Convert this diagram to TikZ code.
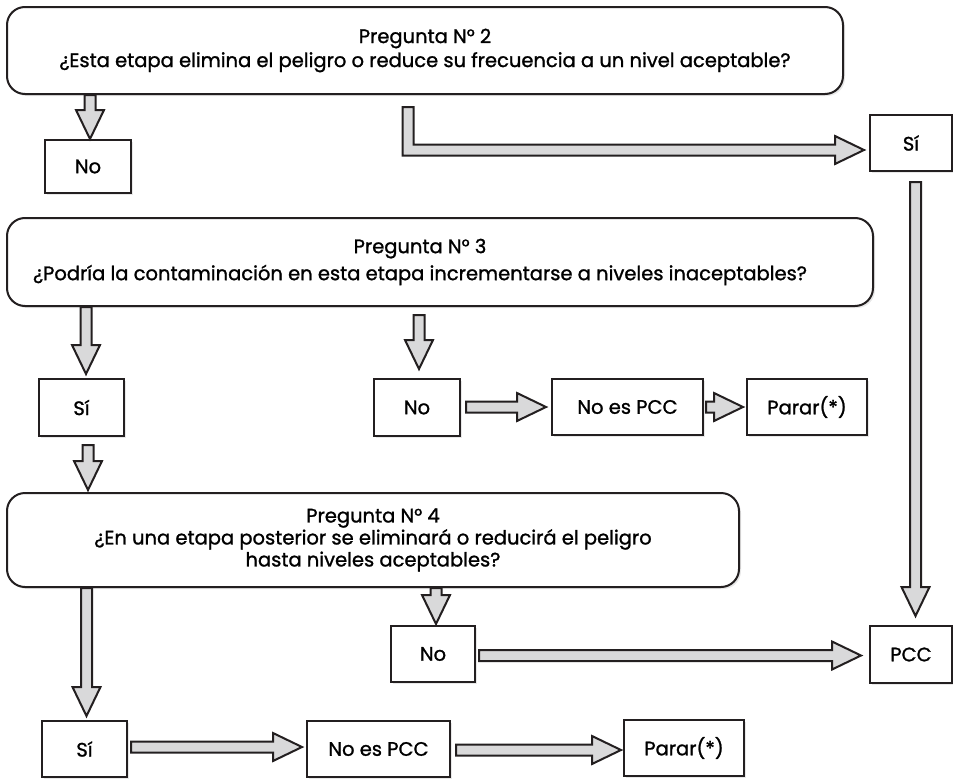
\documentclass[tikz,border=0pt]{standalone}
\usepackage{fontspec}
\setmainfont{Poppins}[FakeBold=1.2]
\usetikzlibrary{calc,shadows}
\definecolor{ink}{HTML}{231F20}
\definecolor{arrowfill}{HTML}{D9D9DA}
\tikzset{
  box/.style={draw=ink, line width=2pt, fill=white, inner sep=0pt, align=center,
    font=\fontsize{19.5}{24}\selectfont,
    drop shadow={shadow xshift=2pt, shadow yshift=-2pt, fill=black!18}},
  question/.style={box, rounded corners=18pt},
  blk/.style={draw=ink, line width=2pt, fill=arrowfill, line join=miter},
}
% block arrow geometry: shaft half width, head half width, head length
\def\sw{5.5pt}
\def\hw{14pt}
\def\hl{29pt}
% downward block arrow: start point (top of shaft), tip
\newcommand\vblock[2]{\draw[blk] let \p1=#1, \p2=#2 in
  (\x2-\sw,\y1) -- (\x2-\sw,\y2+\hl) -- (\x2-\hw,\y2+\hl) -- (\x2,\y2) --
  (\x2+\hw,\y2+\hl) -- (\x2+\sw,\y2+\hl) -- (\x2+\sw,\y1) -- cycle;}
% rightward block arrow: start point (left end of shaft), tip
\newcommand\hblock[2]{\draw[blk] let \p1=#1, \p2=#2 in
  (\x1,\y2+\sw) -- (\x2-\hl,\y2+\sw) -- (\x2-\hl,\y2+\hw) -- (\x2,\y2) --
  (\x2-\hl,\y2-\hw) -- (\x2-\hl,\y2-\sw) -- (\x1,\y2-\sw) -- cycle;}
% down-then-right block arrow
\newcommand\eblock[2]{\draw[blk] let \p1=#1, \p2=#2 in
  (\x1-\sw,\y1) -- (\x1-\sw,\y2-\sw) -- (\x2-\hl,\y2-\sw) -- (\x2-\hl,\y2-\hw) --
  (\x2,\y2) -- (\x2-\hl,\y2+\hw) -- (\x2-\hl,\y2+\sw) -- (\x1+\sw,\y2+\sw) --
  (\x1+\sw,\y1) -- cycle;}
\begin{document}
\begin{tikzpicture}[x=1pt,y=-1pt]
\useasboundingbox (0,0) rectangle (953,779);

% question 2
\node[question, minimum width=836pt, minimum height=87pt] (q2) at (425,50.5)
  {Pregunta N° 2\\¿Esta etapa elimina el peligro o reduce su frecuencia a un nivel aceptable?};
\node[box, minimum width=86pt, minimum height=53pt] (no1) at (88,166.5) {No};
\node[box, minimum width=82pt, minimum height=56pt] (si1) at (911,143) {Sí};

% question 3 (text block sits a little left of the box centre)
\node[question, minimum width=866pt, minimum height=88pt] (q3) at (440,262)
  {Pregunta N° 3\hspace*{40pt}\\[3pt]¿Podría la contaminación en esta etapa incrementarse a niveles inaceptables?\hspace*{40pt}};
\node[box, minimum width=85pt, minimum height=57pt] (si2) at (81.5,407.5) {Sí};
\node[box, minimum width=86pt, minimum height=57pt] (no2) at (417,407.5) {No};
\node[box, minimum width=151pt, minimum height=56pt] (nopcc1) at (627.5,407) {No es PCC};
\node[box, minimum width=120pt, minimum height=56pt] (parar1) at (807,407) {Parar(*)};

% question 4
\node[question, minimum width=732pt, minimum height=94pt, font=\fontsize{19.5}{22}\selectfont] (q4) at (373,540)
  {Pregunta N° 4\\¿En una etapa posterior se eliminará o reducirá el peligro\\hasta niveles aceptables?};
\node[box, minimum width=84pt, minimum height=56pt] (no3) at (433,654) {No};
\node[box, minimum width=82pt, minimum height=57pt] (pcc) at (911,654.5) {PCC};
\node[box, minimum width=85pt, minimum height=56pt] (si3) at (84.5,749) {Sí};
\node[box, minimum width=143pt, minimum height=56pt] (nopcc2) at (378.5,749) {No es PCC};
\node[box, minimum width=120pt, minimum height=56pt] (parar2) at (684,748) {Parar(*)};

% connectors
\vblock{($(q2.south -| no1.north)+(2,0)$)}{($(no1.north)+(2,0)$)}
\eblock{($(q2.south)+(-17,12)$)}{($(si1.west)+(-5,7)$)}
\vblock{($(si1.south)+(4.5,10)$)}{($(pcc.north)+(4.5,-9)$)}

\vblock{($(q3.south -| si2.north)+(4.5,0)$)}{($(si2.north)+(4.5,-4)$)}
\vblock{($(q3.south -| no2.north)+(2,8)$)}{($(no2.north)+(2,-9)$)}
\hblock{($(no2.east)+(5,0)$)}{($(nopcc1.west)+(-5,0)$)}
\hblock{($(nopcc1.east)+(2,0)$)}{($(parar1.west)+(-3,0)$)}
\vblock{($(si2.south)+(6.5,8)$)}{($(si2.south |- q4.north)+(6.5,-2)$)}

\vblock{($(q4.south -| si3.north)+(2,0)$)}{($(si3.north)+(2,-4)$)}
\vblock{($(q4.south -| no3.north)+(3,0)$)}{($(no3.north)+(3,-1)$)}
\hblock{($(no3.east)+(3,0)$)}{($(pcc.west)+(-8,1)$)}
\hblock{($(si3.east)+(3,0)$)}{($(nopcc2.west)+(-4,-2)$)}
\hblock{($(nopcc2.east)+(5,0)$)}{($(parar2.west)+(-2,2)$)}
\end{tikzpicture}
\end{document}
